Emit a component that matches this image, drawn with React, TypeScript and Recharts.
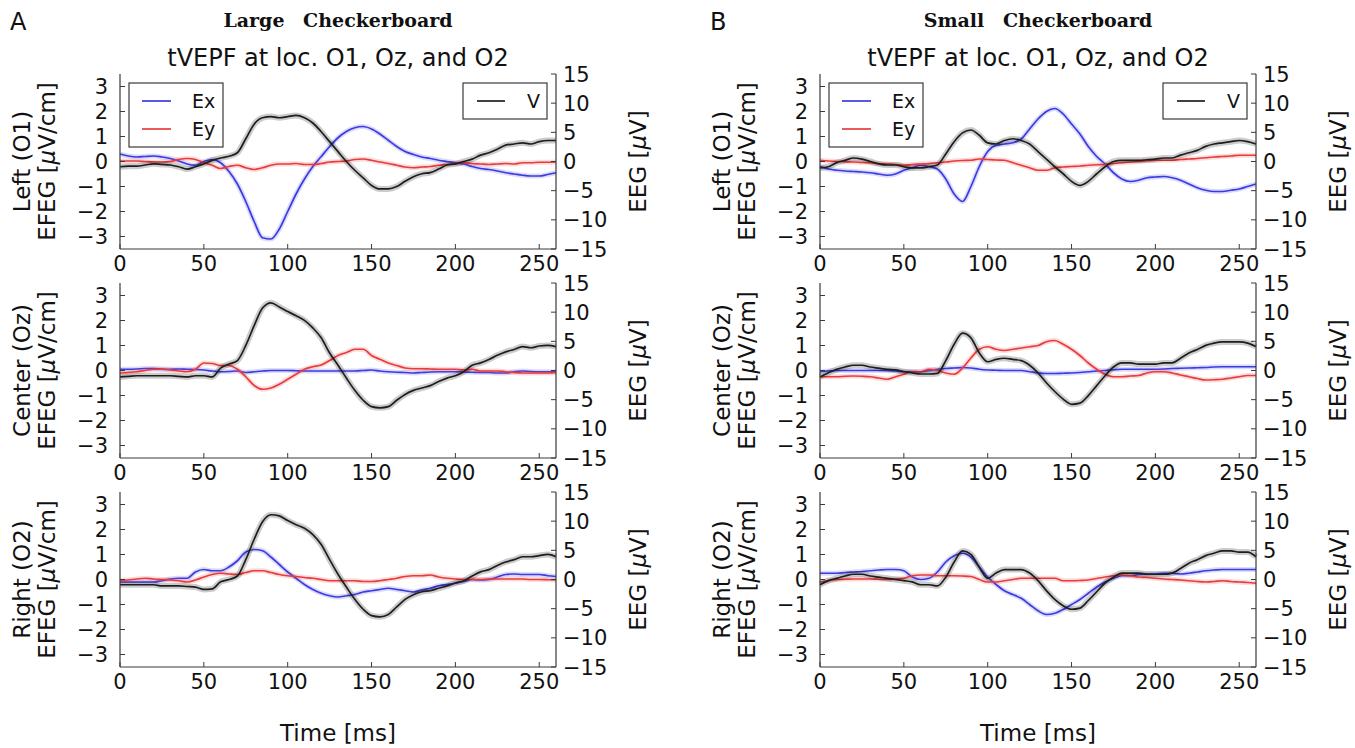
import { Line, LineChart, XAxis, YAxis } from "recharts";

const TIME = [0, 5, 10, 15, 20, 25, 30, 35, 40, 45, 50, 55, 60, 65, 70, 75, 80, 85, 90, 95, 100, 105, 110, 115, 120, 125, 130,
  135, 140, 145, 150, 155, 160, 165, 170, 175, 180, 185, 190, 195, 200, 205, 210, 215, 220, 225, 230, 235, 240, 245, 250, 255, 260];

const TIME_TICKS = [0, 50, 100, 150, 200, 250];
const EFEG_TICKS = [-3, -2, -1, 0, 1, 2, 3];
const EEG_TICKS = [-15, -10, -5, 0, 5, 10, 15];

// Large checkerboard (A)
const LARGE_O1_EX = [0.3, 0.22, 0.18, 0.2, 0.22, 0.18, 0.12, 0.02, -0.1, -0.15, 0.0, 0.08, -0.05, -0.4, -0.9, -1.6, -2.4, -3.05, -3.1, -2.7,
  -2.0, -1.3, -0.7, -0.2, 0.2, 0.6, 0.95, 1.2, 1.35, 1.4, 1.3, 1.1, 0.85, 0.6, 0.4, 0.28, 0.18, 0.12, 0.05, 0.0,
  -0.05, -0.1, -0.2, -0.28, -0.32, -0.38, -0.45, -0.5, -0.55, -0.58, -0.58, -0.52, -0.45];
const LARGE_O1_EY = [0.02, 0.02, 0.02, 0.0, -0.02, -0.02, 0.0, 0.08, 0.12, 0.08, -0.05, -0.15, -0.28, -0.2, -0.15, -0.25, -0.32, -0.25, -0.15, -0.1,
  -0.1, -0.08, -0.12, -0.12, -0.08, -0.02, 0.0, 0.02, 0.08, 0.1, 0.05, -0.02, -0.08, -0.15, -0.22, -0.25, -0.22, -0.2, -0.15, -0.12,
  -0.08, -0.05, -0.08, -0.1, -0.12, -0.1, -0.08, -0.1, -0.05, -0.05, -0.03, -0.03, -0.02];
const LARGE_O1_V = [-0.9, -0.8, -0.8, -0.6, -0.4, -0.5, -0.6, -0.9, -1.3, -0.9, -0.4, 0.2, 0.6, 0.9, 1.5, 3.9, 6.4, 7.5, 7.7, 7.5,
  7.7, 7.9, 7.5, 6.6, 5.1, 3.4, 1.7, 0.0, -1.5, -2.8, -4.1, -4.7, -4.7, -4.3, -3.4, -2.6, -2.1, -1.9, -1.3, -0.6,
  -0.4, 0.0, 0.4, 1.1, 1.5, 2.1, 2.8, 3.0, 3.2, 3.0, 3.4, 3.6, 3.6];

const LARGE_OZ_EX = [0.05, 0.05, 0.06, 0.08, 0.08, 0.06, 0.05, 0.06, 0.05, 0.04, 0.02, -0.02, -0.05, -0.04, -0.02, -0.08, -0.05, -0.02, 0.0, 0.0,
  0.0, -0.01, -0.02, -0.02, -0.02, -0.02, -0.02, -0.02, -0.02, 0.0, 0.02, -0.02, -0.05, -0.07, -0.08, -0.1, -0.08, -0.06, -0.05, -0.05,
  -0.05, -0.06, -0.07, -0.08, -0.08, -0.1, -0.1, -0.05, -0.02, -0.04, -0.05, -0.05, -0.05];
const LARGE_OZ_EY = [-0.1, -0.08, -0.05, 0.0, 0.05, 0.05, 0.02, -0.02, -0.05, 0.05, 0.3, 0.28, 0.2, 0.2, 0.05, -0.25, -0.6, -0.75, -0.7, -0.55,
  -0.35, -0.15, 0.05, 0.15, 0.22, 0.4, 0.6, 0.72, 0.85, 0.85, 0.6, 0.45, 0.3, 0.2, 0.1, 0.07, 0.07, 0.06, 0.05, 0.05,
  0.05, 0.02, 0.05, -0.02, -0.02, -0.02, -0.05, -0.08, -0.1, -0.1, -0.1, -0.1, -0.08];
const LARGE_OZ_V = [-1.1, -1.0, -0.9, -0.9, -0.9, -0.9, -0.9, -1.0, -1.1, -0.9, -0.9, -1.1, 0.4, 1.1, 1.7, 4.3, 7.7, 10.7, 11.6, 10.9,
  10.1, 9.4, 8.6, 7.3, 5.6, 3.0, 0.9, -1.3, -3.4, -5.1, -6.2, -6.4, -6.2, -5.1, -4.1, -3.4, -3.0, -2.6, -1.9, -1.3,
  -0.9, -0.2, 0.9, 1.3, 1.9, 2.6, 3.2, 3.6, 4.1, 3.9, 4.2, 4.3, 4.1];

const LARGE_O2_EX = [-0.1, -0.1, -0.1, -0.1, -0.1, -0.05, 0.02, 0.05, 0.05, 0.3, 0.4, 0.35, 0.35, 0.5, 0.75, 1.1, 1.2, 1.15, 0.9, 0.6,
  0.3, 0.05, -0.2, -0.4, -0.55, -0.65, -0.7, -0.65, -0.6, -0.5, -0.45, -0.4, -0.35, -0.4, -0.45, -0.5, -0.42, -0.35, -0.25, -0.2,
  -0.15, -0.08, 0.0, -0.02, 0.0, 0.1, 0.2, 0.22, 0.2, 0.2, 0.2, 0.15, 0.12];
const LARGE_O2_EY = [-0.05, -0.02, 0.02, 0.05, 0.02, 0.0, -0.02, -0.05, -0.1, -0.02, 0.1, 0.2, 0.25, 0.22, 0.2, 0.28, 0.35, 0.35, 0.28, 0.2,
  0.15, 0.12, 0.08, 0.05, 0.0, -0.05, -0.05, -0.05, -0.05, -0.08, -0.08, -0.05, 0.0, 0.05, 0.12, 0.15, 0.15, 0.18, 0.1, 0.05,
  0.02, 0.0, 0.0, 0.0, 0.02, 0.02, 0.02, 0.02, 0.02, 0.0, 0.0, -0.01, -0.02];
const LARGE_O2_V = [-0.9, -0.9, -0.9, -0.9, -0.9, -1.1, -1.1, -1.1, -1.2, -1.3, -1.7, -1.6, -0.4, 0.0, 0.6, 3.4, 6.9, 9.9, 11.1, 10.9,
  10.1, 9.4, 8.8, 7.7, 6.0, 3.4, 0.9, -1.3, -3.4, -5.1, -6.2, -6.4, -6.0, -4.7, -3.4, -2.6, -2.1, -1.9, -1.5, -1.1,
  -0.6, -0.2, 0.6, 1.3, 1.7, 2.4, 3.0, 3.4, 3.9, 3.9, 4.1, 4.3, 3.9];

// Small checkerboard (B)
const SMALL_O1_EX = [-0.2, -0.3, -0.35, -0.38, -0.4, -0.42, -0.45, -0.5, -0.55, -0.5, -0.35, -0.25, -0.15, -0.2, -0.3, -0.7, -1.3, -1.6, -1.0, -0.2,
  0.4, 0.65, 0.7, 0.75, 0.9, 1.3, 1.7, 2.0, 2.12, 1.9, 1.5, 1.1, 0.6, 0.2, -0.1, -0.45, -0.7, -0.8, -0.75, -0.65,
  -0.62, -0.6, -0.65, -0.75, -0.9, -1.05, -1.15, -1.2, -1.2, -1.15, -1.1, -1.0, -0.9];
const SMALL_O1_EY = [0.05, 0.02, 0.0, -0.01, -0.02, -0.04, -0.05, -0.08, -0.1, -0.12, -0.15, -0.12, -0.1, -0.08, -0.05, -0.02, 0.02, 0.04, 0.05, 0.1,
  0.08, 0.06, 0.05, -0.05, -0.15, -0.25, -0.35, -0.35, -0.25, -0.22, -0.2, -0.18, -0.15, -0.13, -0.12, -0.08, -0.05, -0.02, 0.0, 0.03,
  0.05, 0.05, 0.05, 0.08, 0.1, 0.12, 0.15, 0.18, 0.2, 0.22, 0.25, 0.25, 0.25];
const SMALL_O1_V = [-1.1, -0.9, -0.2, 0.2, 0.6, 0.4, 0.0, -0.4, -0.6, -0.6, -0.9, -1.1, -1.1, -0.9, -0.6, 1.3, 3.4, 4.9, 5.4, 4.5,
  3.2, 3.0, 3.6, 3.9, 3.6, 3.0, 1.7, 0.4, -0.9, -2.1, -3.4, -4.1, -3.4, -2.1, -0.9, 0.0, 0.2, 0.2, 0.2, 0.3,
  0.4, 0.6, 0.6, 1.1, 1.5, 1.9, 2.6, 3.0, 3.2, 3.4, 3.6, 3.4, 3.0];

const SMALL_OZ_EX = [-0.05, -0.02, 0.0, 0.0, 0.0, 0.0, 0.0, 0.0, 0.0, -0.02, -0.05, -0.05, -0.05, 0.0, 0.05, 0.08, 0.1, 0.12, 0.1, 0.05,
  0.02, 0.01, 0.0, 0.0, 0.0, -0.05, -0.1, -0.12, -0.12, -0.11, -0.1, -0.08, -0.05, -0.02, 0.0, 0.03, 0.05, 0.05, 0.05, 0.05,
  0.05, 0.06, 0.08, 0.09, 0.1, 0.11, 0.12, 0.14, 0.15, 0.15, 0.15, 0.15, 0.15];
const SMALL_OZ_EY = [-0.25, -0.25, -0.25, -0.23, -0.22, -0.23, -0.25, -0.3, -0.35, -0.25, -0.15, -0.05, -0.05, 0.05, 0.0, -0.1, -0.15, 0.1, 0.5, 0.85,
  0.95, 0.85, 0.8, 0.85, 0.9, 0.95, 1.0, 1.15, 1.2, 1.05, 0.85, 0.6, 0.3, 0.05, -0.15, -0.25, -0.25, -0.22, -0.2, -0.1,
  -0.05, -0.05, -0.1, -0.18, -0.25, -0.32, -0.38, -0.37, -0.35, -0.3, -0.25, -0.2, -0.2];
const SMALL_OZ_V = [-1.1, -0.4, 0.2, 0.6, 0.9, 0.9, 0.6, 0.4, 0.2, 0.1, -0.2, -0.4, -0.6, -0.6, -0.5, 1.7, 4.5, 6.4, 5.6, 3.0,
  1.5, 1.9, 2.1, 1.9, 1.7, 0.9, -0.4, -2.1, -3.6, -4.9, -5.8, -5.6, -4.3, -2.6, -0.9, 0.6, 1.3, 1.3, 1.1, 1.1,
  1.1, 1.3, 1.3, 2.1, 3.0, 3.6, 4.3, 4.7, 4.9, 4.9, 4.9, 4.7, 4.1];

const SMALL_O2_EX = [0.25, 0.25, 0.25, 0.28, 0.3, 0.32, 0.35, 0.38, 0.4, 0.4, 0.35, 0.1, 0.0, 0.05, 0.3, 0.7, 0.95, 1.05, 0.9, 0.5,
  0.1, -0.2, -0.45, -0.6, -0.75, -1.0, -1.25, -1.4, -1.35, -1.2, -1.0, -0.8, -0.55, -0.3, -0.1, 0.05, 0.15, 0.15, 0.2, 0.22,
  0.22, 0.25, 0.25, 0.22, 0.25, 0.3, 0.35, 0.38, 0.4, 0.4, 0.4, 0.4, 0.4];
const SMALL_O2_EY = [-0.1, -0.05, 0.0, 0.01, 0.02, 0.02, 0.02, 0.01, 0.0, 0.02, 0.05, 0.15, 0.18, 0.18, 0.15, 0.15, 0.15, 0.14, 0.12, 0.0,
  -0.1, -0.1, -0.05, 0.0, 0.05, 0.05, 0.05, 0.05, 0.05, -0.05, -0.05, -0.04, -0.02, 0.04, 0.1, 0.15, 0.18, 0.15, 0.1, 0.08,
  0.05, 0.02, 0.0, -0.02, -0.05, -0.08, -0.1, -0.08, -0.05, -0.08, -0.1, -0.12, -0.15];
const SMALL_O2_V = [-0.9, -0.2, 0.2, 0.6, 0.9, 0.9, 0.6, 0.4, 0.2, 0.0, -0.2, -0.4, -0.9, -0.9, -1.1, 0.4, 3.0, 4.9, 4.3, 2.1,
  0.2, 1.1, 1.7, 1.7, 1.7, 1.1, -0.2, -1.9, -3.4, -4.5, -5.1, -4.9, -3.6, -2.1, -0.6, 0.4, 1.1, 1.1, 1.1, 0.9,
  0.9, 0.9, 1.1, 1.9, 2.8, 3.4, 4.1, 4.5, 4.9, 4.9, 4.7, 4.7, 3.9];

const COLUMNS = [
  { letter: "A", title: "Large", left: 120 },
  { letter: "B", title: "Small", left: 820 },
];
const ROWS = [
  { name: "Left (O1)", top: 74 },
  { name: "Center (Oz)", top: 283 },
  { name: "Right (O2)", top: 492 },
];
const SERIES = [
  [[LARGE_O1_EX, LARGE_O1_EY, LARGE_O1_V], [LARGE_OZ_EX, LARGE_OZ_EY, LARGE_OZ_V], [LARGE_O2_EX, LARGE_O2_EY, LARGE_O2_V]],
  [[SMALL_O1_EX, SMALL_O1_EY, SMALL_O1_V], [SMALL_OZ_EX, SMALL_OZ_EY, SMALL_OZ_V], [SMALL_O2_EX, SMALL_O2_EY, SMALL_O2_V]],
];

const PLOT_W = 436;
const PLOT_H = 175;
const AXIS_W = 62;
const PAD_TOP = 16;
const FONT = "'DejaVu Sans', sans-serif";
const TICK_SIZE = 21;
const LABEL_SIZE = 23;
const INK = "#111";
const FRAME = "#3a3a3a";
const EX_COLOR = "#3b3be2";
const EY_COLOR = "#e83c3c";
const V_COLOR = "#1e1e1e";

const fmt = (v: number) => (v < 0 ? `\u2212${Math.abs(v)}` : `${v}`);

const LeftTick = (p: any) => {
  const ax = p.x + 12;
  return <g>
    <line x1={ax} x2={ax + 5} y1={p.y} y2={p.y} stroke={FRAME} />
    <text x={p.x} y={p.y} dy={7.5} textAnchor="end" fontSize={TICK_SIZE} fontFamily={FONT} fill={INK}>{fmt(p.payload.value)}</text>
  </g>;
};
const RightTick = (p: any) => {
  const ax = p.x - 7;
  return <g>
    <line x1={ax} x2={ax - 5} y1={p.y} y2={p.y} stroke={FRAME} />
    <text x={p.x} y={p.y} dy={7.5} textAnchor="start" fontSize={TICK_SIZE} fontFamily={FONT} fill={INK}>{fmt(p.payload.value)}</text>
  </g>;
};
const BottomTick = (p: any) => {
  const ay = p.y - 6;
  return <g>
    <line x1={p.x} x2={p.x} y1={ay} y2={ay - 5} stroke={FRAME} />
    <text x={p.x} y={p.y} dy={15.5} textAnchor="middle" fontSize={TICK_SIZE} fontFamily={FONT} fill={INK}>{fmt(p.payload.value)}</text>
  </g>;
};
const TopTick = (p: any) => (
  <line x1={p.x} x2={p.x} y1={p.y} y2={p.y + 5} stroke={FRAME} />
);

const Panel = ({ ex, ey, v }: { ex: number[]; ey: number[]; v: number[] }) => {
  const data = TIME.map((t, i) => ({ t, ex: ex[i], ey: ey[i], v: v[i] }));
  return (
    <LineChart width={PLOT_W + 2 * AXIS_W} height={PLOT_H + PAD_TOP + 32} data={data}
      margin={{ top: PAD_TOP, right: 0, bottom: 0, left: 0 }}>
      <XAxis xAxisId="b" dataKey="t" type="number" domain={[0, 260]} ticks={TIME_TICKS} interval={0}
        height={32} tickSize={0} tickMargin={6} tickLine={false} axisLine={{ stroke: FRAME, strokeWidth: 1.2 }} tick={<BottomTick />} />
      <XAxis xAxisId="top" orientation="top" dataKey="t" type="number" domain={[0, 260]} ticks={TIME_TICKS} interval={0}
        height={0} tickSize={0} tickMargin={0} tickLine={false} axisLine={{ stroke: FRAME, strokeWidth: 1.2 }} tick={<TopTick />} />
      <YAxis yAxisId="e" domain={[-3.5, 3.5]} ticks={EFEG_TICKS} interval={0} width={AXIS_W}
        tickSize={0} tickMargin={12} tickLine={false} axisLine={{ stroke: FRAME, strokeWidth: 1.2 }} tick={<LeftTick />} />
      <YAxis yAxisId="v" orientation="right" domain={[-15, 15]} ticks={EEG_TICKS} interval={0} width={AXIS_W}
        tickSize={0} tickMargin={7} tickLine={false} axisLine={{ stroke: FRAME, strokeWidth: 1.2 }} tick={<RightTick />} />
      <Line xAxisId="b" yAxisId="e" dataKey="ex" type="monotone" stroke={EX_COLOR} strokeOpacity={0.18} strokeWidth={5} dot={false} isAnimationActive={false} />
      <Line xAxisId="b" yAxisId="e" dataKey="ex" type="monotone" stroke={EX_COLOR} strokeWidth={1.7} dot={false} isAnimationActive={false} />
      <Line xAxisId="b" yAxisId="e" dataKey="ey" type="monotone" stroke={EY_COLOR} strokeOpacity={0.18} strokeWidth={5} dot={false} isAnimationActive={false} />
      <Line xAxisId="b" yAxisId="e" dataKey="ey" type="monotone" stroke={EY_COLOR} strokeWidth={1.7} dot={false} isAnimationActive={false} />
      <Line xAxisId="b" yAxisId="v" dataKey="v" type="monotone" stroke="#000" strokeOpacity={0.2} strokeWidth={6} dot={false} isAnimationActive={false} />
      <Line xAxisId="b" yAxisId="v" dataKey="v" type="monotone" stroke={V_COLOR} strokeWidth={1.7} dot={false} isAnimationActive={false} />
    </LineChart>
  );
};

const Legends = ({ left, top }: { left: number; top: number }) => {
  const bx = left + 9;
  const by = top + 9;
  const vx = left + PLOT_W - 9 - 84;
  return <g fontFamily={FONT} fontSize={19} fill={INK}>
    <rect x={bx} y={by} width={94} height={64} fill="#fff" stroke={FRAME} strokeWidth={1.2} />
    <line x1={bx + 13} x2={bx + 42} y1={by + 18} y2={by + 18} stroke={EX_COLOR} strokeWidth={1.7} />
    <text x={bx + 63} y={by + 25}>Ex</text>
    <line x1={bx + 13} x2={bx + 42} y1={by + 46} y2={by + 46} stroke={EY_COLOR} strokeWidth={1.7} />
    <text x={bx + 63} y={by + 53}>Ey</text>
    <rect x={vx} y={by} width={84} height={36} fill="#fff" stroke={FRAME} strokeWidth={1.2} />
    <line x1={vx + 14} x2={vx + 42} y1={by + 18} y2={by + 18} stroke={V_COLOR} strokeWidth={1.7} />
    <text x={vx + 64} y={by + 25}>V</text>
  </g>;
};

export default function App() {
  return (
    <div style={{ position: "absolute", left: 0, top: 0, width: 1355, height: 748, background: "#fff", overflow: "hidden" }}>
      {COLUMNS.map((col, c) => ROWS.map((row, r) => (
        <div key={`${c}-${r}`} style={{ position: "absolute", left: col.left - AXIS_W, top: row.top - PAD_TOP }}>
          <Panel ex={SERIES[c][r][0]} ey={SERIES[c][r][1]} v={SERIES[c][r][2]} />
        </div>
      )))}
      <svg width={1355} height={748} style={{ position: "absolute", left: 0, top: 0, pointerEvents: "none" }}>
        {COLUMNS.map(col => {
          const cx = col.left + PLOT_W / 2;
          return <g key={col.letter} fill={INK}>
            <text x={col.left - 110} y={30} fontFamily={FONT} fontSize={24}>{col.letter}</text>
            <text x={cx} y={27} textAnchor="middle" fontFamily="'DejaVu Serif', serif" fontWeight="bold" fontSize={19}
              style={{ wordSpacing: "12px" }}>{col.title} Checkerboard</text>
            <text x={cx} y={66} textAnchor="middle" fontFamily={FONT} fontSize={24}>tVEPF at loc. O1, Oz, and O2</text>
            <text x={cx} y={741} textAnchor="middle" fontFamily={FONT} fontSize={LABEL_SIZE}>Time [ms]</text>
            {ROWS.map(row => {
              const cy = row.top + PLOT_H / 2;
              return <g key={row.name} fontFamily={FONT} fontSize={LABEL_SIZE}>
                <text transform={`translate(${col.left - 90},${cy}) rotate(-90)`} textAnchor="middle">{row.name}</text>
                <text transform={`translate(${col.left - 65},${cy}) rotate(-90)`} textAnchor="middle">
                  EFEG [<tspan fontStyle="italic">μ</tspan>V/cm]
                </text>
                <text transform={`translate(${col.left + PLOT_W + 90},${cy}) rotate(-90)`} textAnchor="middle">
                  EEG [<tspan fontStyle="italic">μ</tspan>V]
                </text>
              </g>;
            })}
            <Legends left={col.left} top={ROWS[0].top} />
          </g>;
        })}
      </svg>
    </div>
  );
}
